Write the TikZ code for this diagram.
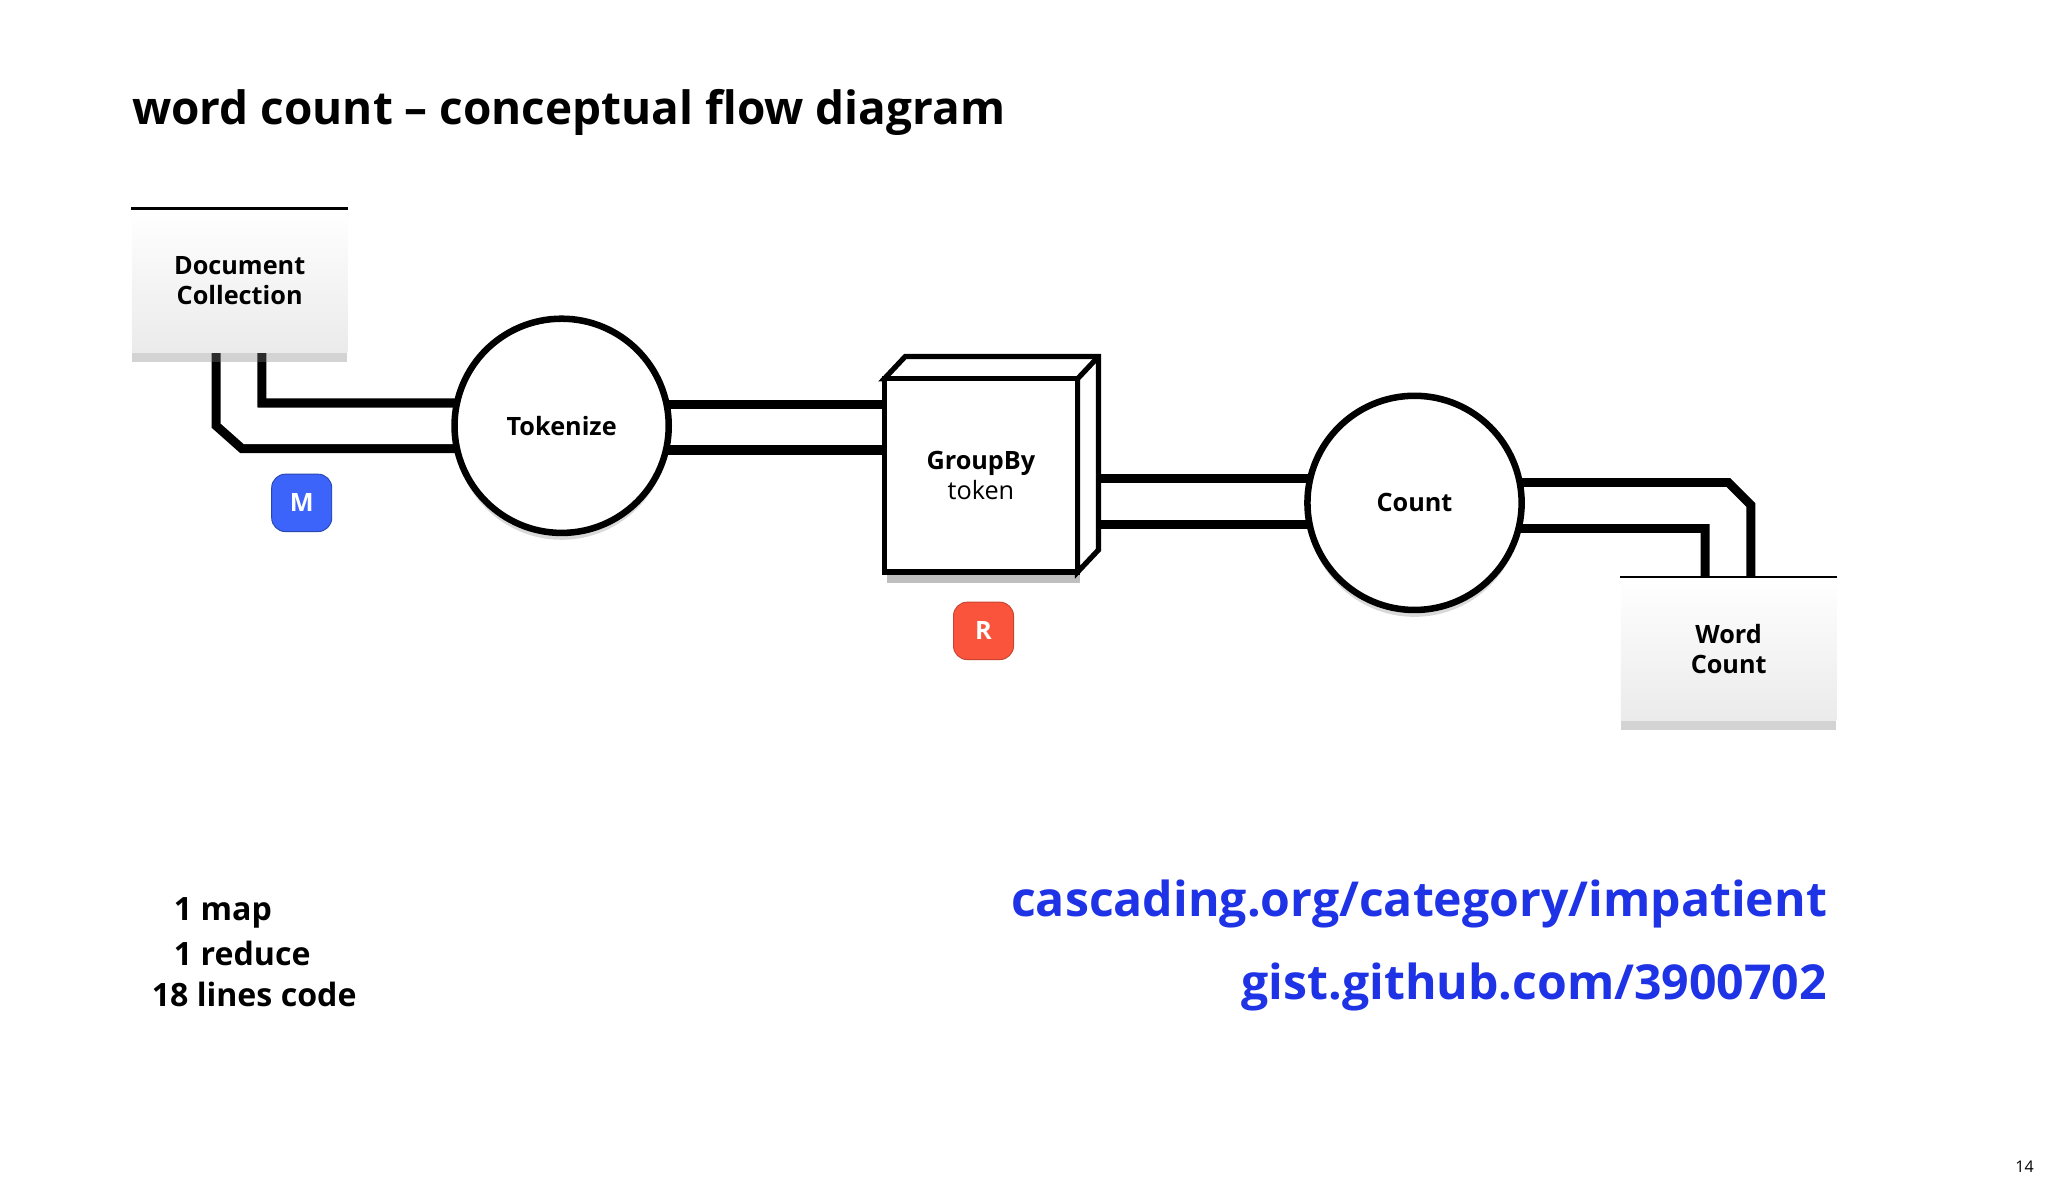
\documentclass[tikz,border=0pt]{standalone}
\usepackage{fontspec}
\setmainfont{Open Sans}
\usetikzlibrary{shadows}
\definecolor{linkblue}{RGB}{30,50,230}
\definecolor{mblue}{RGB}{60,100,250}
\definecolor{rred}{RGB}{250,85,60}
\tikzset{
  pipe/.style={draw=black, line width=7*0.02cm, double=white, double distance=28*0.02cm, line join=miter},
  store/.style={draw=none, top color=white, bottom color=black!8, minimum width=165*0.02cm, minimum height=110*0.02cm,
    align=center, font=\bfseries\fontsize{11}{13}\selectfont, drop shadow={opacity=0.35, shadow xshift=0pt, shadow yshift=-4pt}},
  op/.style={circle, draw, line width=5*0.02cm, fill=white, minimum size=164*0.02cm, font=\bfseries\fontsize{11}{13}\selectfont,
    drop shadow={opacity=0.3, shadow xshift=0pt, shadow yshift=-3pt}},
  badge/.style={rounded corners=6pt, minimum width=46*0.02cm, minimum height=44*0.02cm, text=white, draw,
    font=\bfseries\fontsize{11}{13}\selectfont},
  note/.style={anchor=west, font=\bfseries\fontsize{14}{16}\selectfont},
  link/.style={anchor=east, text=linkblue, font=\bfseries\fontsize{21}{25}\selectfont}
}
\begin{document}
\begin{tikzpicture}[x=0.02cm, y=-0.02cm]
\useasboundingbox (0,0) rectangle (1568,907);
% title
\node[anchor=west, font=\bfseries\fontsize{20}{24}\selectfont] (title) at (95,86) {word count -- conceptual flow diagram};
% pipes
\draw[pipe] (183,268) -- (183,318) -- (192,326) -- (352,326);
\draw[pipe] (510,327) -- (680,327);
\draw[pipe] (838,384) -- (1004,384);
\draw[pipe] (1162,387) -- (1316,387) -- (1323,394) -- (1323,444);
% stores
\node[store] (doc) at (183.5,215) {Document\\Collection};
\draw[line width=2*0.02cm] (doc.north west) -- (doc.north east);
\node[store] (wc) at (1323.5,497) {Word\\Count};
\draw[line width=2*0.02cm] (wc.north west) -- (wc.north east);
% operations
\node[op] (tok) at (430,326) {Tokenize};
\node[op] (cnt) at (1083,385) {Count};
% groupby cube
\fill[black, opacity=0.25] (679,440) rectangle (827,446);
\draw[line width=4*0.02cm, fill=white, line join=miter] (677,290) -- (693,273) -- (841,273) -- (841,421) -- (825,438) -- (825,290) -- cycle;
\draw[line width=4*0.02cm] (825,290) -- (841,273);
\node[draw, line width=4*0.02cm, fill=white, minimum size=148*0.02cm, inner sep=0pt, align=center, font=\fontsize{11}{13}\selectfont]
  (grp) at (751,364) {\textbf{GroupBy}\\token};
% badges
\node[badge, fill=mblue, draw=mblue!70!black] (m) at (231,385) {M};
\node[badge, fill=rred, draw=rred!80!black] (r) at (753,483) {R};
% notes
\node[note] (n1) at (127,699) {1 map};
\node[note] (n2) at (127,730) {1 reduce};
\node[note] (n3) at (110,761) {18 lines code};
\node[link] (l1) at (1405,692) {cascading.org/category/impatient};
\node[link] (l2) at (1405,756) {gist.github.com/3900702};
\node[font=\fontsize{7}{8}\selectfont] (pg) at (1550,893) {14};
\end{tikzpicture}
\end{document}
